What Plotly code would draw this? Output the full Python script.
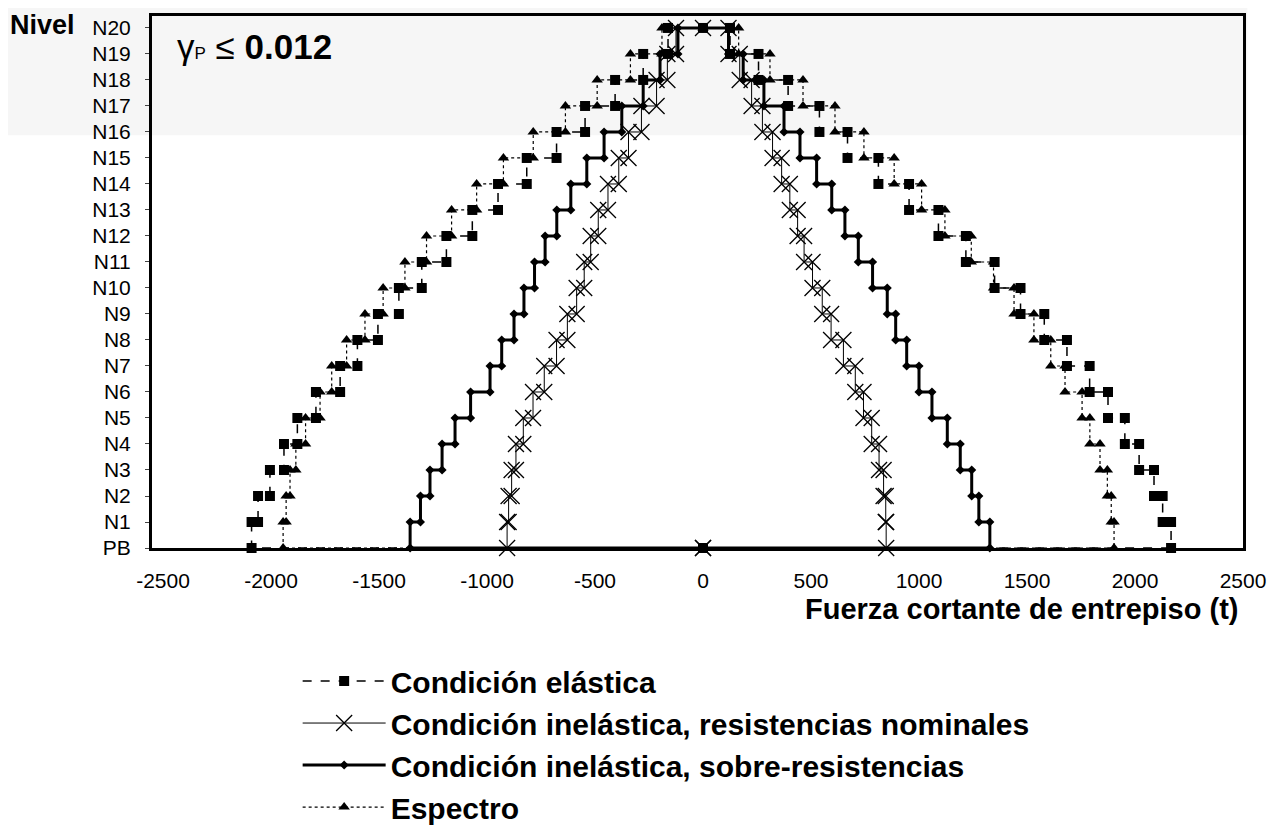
import plotly.graph_objects as go

# niveles del edificio (PB = planta baja)
niveles = ["PB"] + ["N" + str(i) for i in range(1, 21)]

# marcas del eje de fuerza cortante
x_ticks = [-2500, -2000, -1500, -1000, -500, 0, 500, 1000, 1500, 2000, 2500]

# fuerza cortante de entrepiso (t) por entrepiso 1..20, lado negativo y positivo
elastica_izq = [-2090, -2060, -2005, -1940, -1878, -1792, -1680, -1600, -1505, -1408,
                -1302, -1188, -1068, -949, -816, -678, -546, -407, -277, -162]
elastica_der = [2167, 2128, 2088, 2019, 1953, 1875, 1790, 1685, 1580, 1470,
                1350, 1217, 1090, 954, 812, 669, 539, 394, 257, 125]

nominal_izq = [-907, -900, -886, -866, -832, -787, -735, -678, -628, -585,
               -550, -520, -485, -440, -390, -345, -285, -215, -165, -125]
nominal_der = [848, 846, 836, 815, 781, 743, 705, 650, 593, 552,
               507, 468, 438, 402, 364, 322, 275, 225, 170, 118]

sobre_izq = [-1356, -1308, -1264, -1208, -1148, -1076, -986, -932, -875, -829,
             -780, -731, -677, -612, -538, -458, -376, -277, -199, -116]
sobre_der = [1328, 1277, 1244, 1191, 1131, 1060, 1000, 943, 892, 853,
             785, 719, 657, 596, 526, 449, 375, 282, 186, 118]

espectro_izq = [-1944, -1930, -1912, -1885, -1840, -1773, -1719, -1650, -1565, -1481,
                -1380, -1280, -1164, -1048, -924, -786, -637, -490, -336, -190]
espectro_der = [1903, 1890, 1872, 1838, 1791, 1755, 1676, 1610, 1532, 1440,
                1345, 1242, 1120, 1012, 885, 745, 611, 463, 310, 165]


def escalones(izq, der):
    # perfil escalonado: sube por la izquierda, cruza arriba y baja por la derecha
    x = [0]
    y = [0]
    for i, v in enumerate(izq):
        x += [v, v]
        y += [i, i + 1]
    x.append(0)
    y.append(len(izq))
    for i in range(len(der) - 1, -1, -1):
        x += [der[i], der[i]]
        y += [i + 1, i]
    x.append(0)
    y.append(0)
    return x, y


series = [
    ("Condición elástica", elastica_izq, elastica_der,
     dict(width=1.5, dash="dash"), dict(symbol="square", size=10)),
    ("Condición inelástica, resistencias nominales", nominal_izq, nominal_der,
     dict(width=1), dict(symbol="x-thin-open", size=16, line=dict(width=1.3, color="black"))),
    ("Condición inelástica, sobre-resistencias", sobre_izq, sobre_der,
     dict(width=3), dict(symbol="diamond", size=7)),
    ("Espectro", espectro_izq, espectro_der,
     dict(width=1.2, dash="dot"), dict(symbol="triangle-up", size=10)),
]

data = []
for nombre, izq, der, linea, marca in series:
    x, y = escalones(izq, der)
    linea["color"] = "black"
    marca["color"] = "black"
    data.append(go.Scatter(
        x=x, y=y, mode="lines+markers", name=nombre,
        line=linea, marker=marca, cliponaxis=False,
    ))

fig = go.Figure(data=data)

# la pagina tiene 8px de margen, por eso la figura es algo menor que la ventana
fig.update_layout(
    width=1271, height=829,
    margin=dict(l=144, r=36, t=8, b=289, autoexpand=False),
    paper_bgcolor="white",
    plot_bgcolor="rgba(0,0,0,0)",
    font=dict(family="Liberation Sans", size=21, color="black"),
    xaxis=dict(range=[-2551, 2500], tickvals=x_ticks, ticktext=[str(v) for v in x_ticks],
               showgrid=False, zeroline=False, automargin=False,
               showline=True, mirror=True, linecolor="black", linewidth=3,
               ticks="", ticklabelstandoff=12, tickfont=dict(size=21)),
    yaxis=dict(range=[0, 20.46], tickvals=list(range(21)), ticktext=niveles,
               showgrid=False, zeroline=False, showline=True, mirror=True,
               automargin=False, linecolor="black", linewidth=3, ticks="outside",
               ticklen=4, tickwidth=1, ticklabelstandoff=10, tickfont=dict(size=21)),
    legend=dict(x=0.1335, xanchor="left", y=-0.2012, yanchor="top",
                font=dict(size=30, weight="bold"), itemwidth=83,
                bgcolor="rgba(0,0,0,0)", tracegroupgap=0),
    showlegend=True,
)

# franja gris clara del escaneo original
fig.add_shape(type="rect", xref="paper", yref="paper", x0=-0.14, x1=1.004,
              y0=0.776, y1=1.04, fillcolor="#f6f6f6", line=dict(width=0), layer="below")

fig.add_annotation(x=-0.132, y=0.983, xref="paper", yref="paper", xanchor="left",
                   yanchor="middle", showarrow=False, text="<b>Nivel</b>",
                   font=dict(size=27))
fig.add_annotation(x=0.021, y=0.9425, xref="paper", yref="paper", xanchor="left",
                   yanchor="middle", showarrow=False,
                   text="γ<span style='font-size:17px'>P</span> ≤ <b>0.012</b>",
                   font=dict(size=35))
fig.add_annotation(x=0.9973, y=-0.1145, xref="paper", yref="paper", xanchor="right",
                   yanchor="middle", showarrow=False,
                   text="<b>Fuerza cortante de entrepiso (t)</b>", font=dict(size=29))

fig.write_html("out.html")
